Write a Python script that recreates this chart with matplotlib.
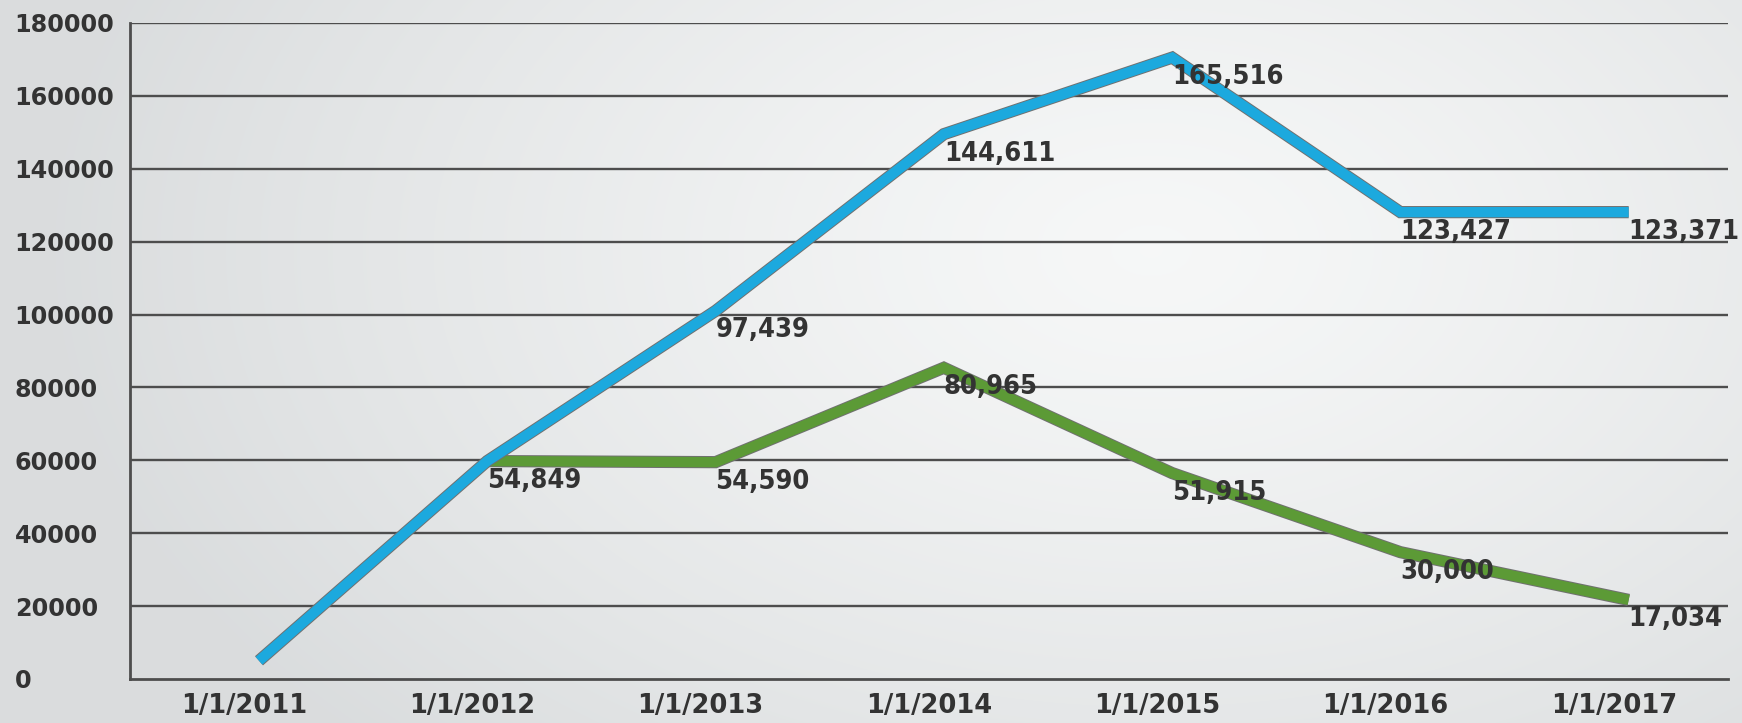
import numpy as np
import matplotlib
matplotlib.use("Agg")
import matplotlib.pyplot as plt
import matplotlib.patheffects as pe
from matplotlib.transforms import ScaledTranslation

# ---- data ----
categories = ["1/1/2011", "1/1/2012", "1/1/2013", "1/1/2014", "1/1/2015", "1/1/2016", "1/1/2017"]
blue_values = [5000, 59800, 101000, 149500, 170500, 128100, 128100]
blue_labels = ["", "", "97,439", "144,611", "165,516", "123,427", "123,371"]
green_values = [np.nan, 59800, 59500, 85400, 56500, 34800, 21700]
green_labels = ["", "54,849", "54,590", "80,965", "51,915", "30,000", "17,034"]
y_ticks = [0, 20000, 40000, 60000, 80000, 100000, 120000, 140000, 160000, 180000]

W, H, DPI = 1742, 723, 100
fig = plt.figure(figsize=(W / DPI, H / DPI), dpi=DPI)

# background gradient
bg = fig.add_axes([0, 0, 1, 1], zorder=-10)
yy, xx = np.mgrid[0:H, 0:W]
d = np.sqrt(((xx - 1150) / 1100.0) ** 2 + ((yy - 250) / 700.0) ** 2)
light = np.array([0.965, 0.97, 0.97])
dark = np.array([0.855, 0.865, 0.87])
t = np.clip(d, 0, 1)[..., None] ** 1.3
img = light * (1 - t) + dark * t
bg.imshow(img, aspect="auto", extent=[0, 1, 0, 1])
bg.axis("off")

ax = fig.add_axes([130 / W, 1 - 679 / H, (1728 - 130) / W, (679 - 23) / H])
ax.patch.set_alpha(0)
x = np.arange(len(categories))
ax.set_xlim(-0.565, 6.435)
ax.set_ylim(0, 180000)

for yv in y_ticks[1:]:
    ax.axhline(yv, color="#4d4d4d", lw=1.7, zorder=1)
for s in ["top", "right"]:
    ax.spines[s].set_visible(False)
ax.spines["left"].set_color("#4d4d4d")
ax.spines["left"].set_linewidth(2.0)
ax.spines["bottom"].set_color("#4d4d4d")
ax.spines["bottom"].set_linewidth(2.0)

txtcol = "#333333"
outline = [pe.Stroke(linewidth=8.8, foreground="#707070"), pe.Normal()]
ax.plot(x, green_values, color="#5c9a36", lw=7.4, solid_joinstyle="miter",
        solid_capstyle="butt", zorder=3, path_effects=outline)
ax.plot(x, blue_values, color="#1ca9de", lw=7.4, solid_joinstyle="miter",
        solid_capstyle="butt", zorder=4, path_effects=outline)

lab_font = dict(family="DejaVu Sans", fontstretch="condensed", fontweight="bold",
                fontsize=19.5, color=txtcol, zorder=6)
for xi, v, lab in zip(x, blue_values, blue_labels):
    if lab:
        ax.annotate(lab, (xi, v), xytext=(0, -14), textcoords="offset points",
                    ha="left", va="center", **lab_font)
for xi, v, lab in zip(x, green_values, green_labels):
    if lab:
        ax.annotate(lab, (xi, v), xytext=(0, -14), textcoords="offset points",
                    ha="left", va="center", **lab_font)

ax.set_yticks(y_ticks)
ax.set_yticklabels([str(v) for v in y_ticks])
ax.tick_params(axis="y", length=0, pad=83, labelsize=17.2, labelcolor=txtcol)
for lbl in ax.get_yticklabels():
    lbl.set_horizontalalignment("left")
    lbl.set_fontweight("bold")

ax.set_xticks(x)
ax.set_xticklabels(categories)
ax.tick_params(axis="x", length=0, pad=10, labelsize=18.5, labelcolor=txtcol)
off = ScaledTranslation(-15 / DPI, 0, fig.dpi_scale_trans)
for lbl in ax.get_xticklabels():
    lbl.set_fontweight("bold")
    lbl.set_transform(lbl.get_transform() + off)

fig.savefig("out.png", dpi=DPI)
